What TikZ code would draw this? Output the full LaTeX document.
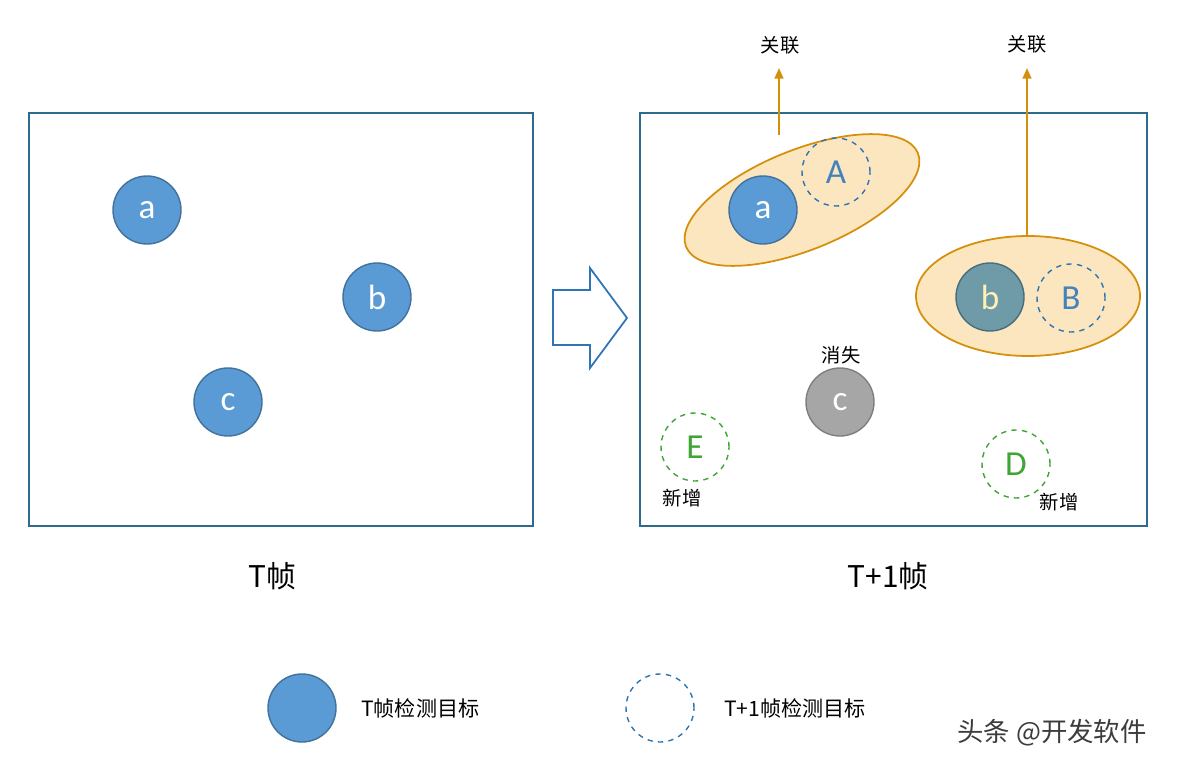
\documentclass[tikz,border=0pt]{standalone}
\usepackage{fontspec}
\setmainfont{Carlito}
\newfontfamily\cjk{Noto Sans CJK SC}
\usetikzlibrary{arrows.meta}
\definecolor{fr}{HTML}{2E6A8E}
\definecolor{bl}{HTML}{5B9BD5}
\definecolor{bld}{HTML}{41719C}
\definecolor{dsh}{HTML}{2E75B6}
\definecolor{org}{HTML}{D4900A}
\definecolor{orf}{HTML}{FCE6C0}
\definecolor{grn}{HTML}{3FA535}
\definecolor{bgf}{HTML}{6F9AA8}
\definecolor{bgd}{HTML}{466E7D}
\definecolor{bgt}{HTML}{FFF0B4}
\definecolor{gf}{HTML}{A6A6A6}
\definecolor{gd}{HTML}{7F7F7F}
\definecolor{wmc}{HTML}{3C3C3C}
\begin{document}
\begin{tikzpicture}[x=0.02cm,y=-0.02cm,
 frame/.style={draw=fr,line width=0.8pt},
 tobj/.style={circle,minimum size=68*0.02cm,inner sep=0pt,fill=bl,draw=bld,line width=0.8pt,text=white,font=\fontsize{20}{20}\selectfont},
 nobj/.style={circle,minimum size=68*0.02cm,inner sep=0pt,draw=dsh,dashed,line width=0.8pt,text=dsh!90,font=\fontsize{20}{20}\selectfont},
 gobj/.style={nobj,draw=grn,text=grn},
 lab/.style={font=\cjk\fontsize{11}{11}\selectfont},
 arr/.style={draw=org,line width=1pt,-{Triangle[length=6pt,width=5pt]}}]
\useasboundingbox (0,0) rectangle (1182,770);
\draw[frame] (29,113) rectangle (533,526);
\draw[frame] (640,113) rectangle (1147,526);
\node[tobj] (a) at (147,210) {a};
\node[tobj] (b) at (377,297) {b};
\node[tobj] (c) at (228,402) {c};
\draw[draw=dsh,line width=1pt,fill=white] (553,290) -- (590,290) -- (590,268) -- (627,318) -- (590,368) -- (590,345) -- (553,345) -- cycle;
\fill[orf,draw=org,line width=1pt] (802,200) ellipse [x radius=125,y radius=50,rotate=22];
\fill[orf,draw=org,line width=1pt] (1028,296) ellipse [x radius=112,y radius=60];
\node[tobj] (a2) at (763,210) {a};
\node[nobj] (A) at (836,172) {A};
\node[tobj,fill=bgf,draw=bgd,text=bgt] (b2) at (990,297) {b};
\node[nobj] (B) at (1071,298) {B};
\coordinate (e1) at (779,135);
\coordinate (e2) at (1027,236);
\node[lab] (r1) at (780,45) {关联};
\node[lab] (r2) at (1027,44) {关联};
\draw[arr] (e1) -- (e1 |- 0,68);
\draw[arr] (e2) -- (e2 |- 0,68);
\node[tobj,fill=gf,draw=gd] (c2) at (840,402) {c};
\node[lab] (x) at (841,355) {消失};
\node[gobj] (E) at (695,447) {E};
\node[lab] (n1) at (682,498) {新增};
\node[gobj] (D) at (1016,464) {D};
\node[lab] (n2) at (1059,502) {新增};
\node[font=\cjk\fontsize{17}{17}\selectfont] (t1) at (272,576) {T帧};
\node[font=\cjk\fontsize{17}{17}\selectfont] (t2) at (888,576) {T+1帧};
\node[tobj] (la) at (302,708) {};
\node[lab,anchor=west,font=\cjk\fontsize{12}{12}\selectfont] (lt) at (355,708) {T帧检测目标};
\node[nobj] (lb) at (660,708) {};
\node[lab,anchor=west,font=\cjk\fontsize{12}{12}\selectfont] (lt2) at (718,708) {T+1帧检测目标};
\node[font=\cjk\fontsize{15}{15}\selectfont,text=wmc] (wm) at (1052,733) {头条 @开发软件};
\end{tikzpicture}
\end{document}
